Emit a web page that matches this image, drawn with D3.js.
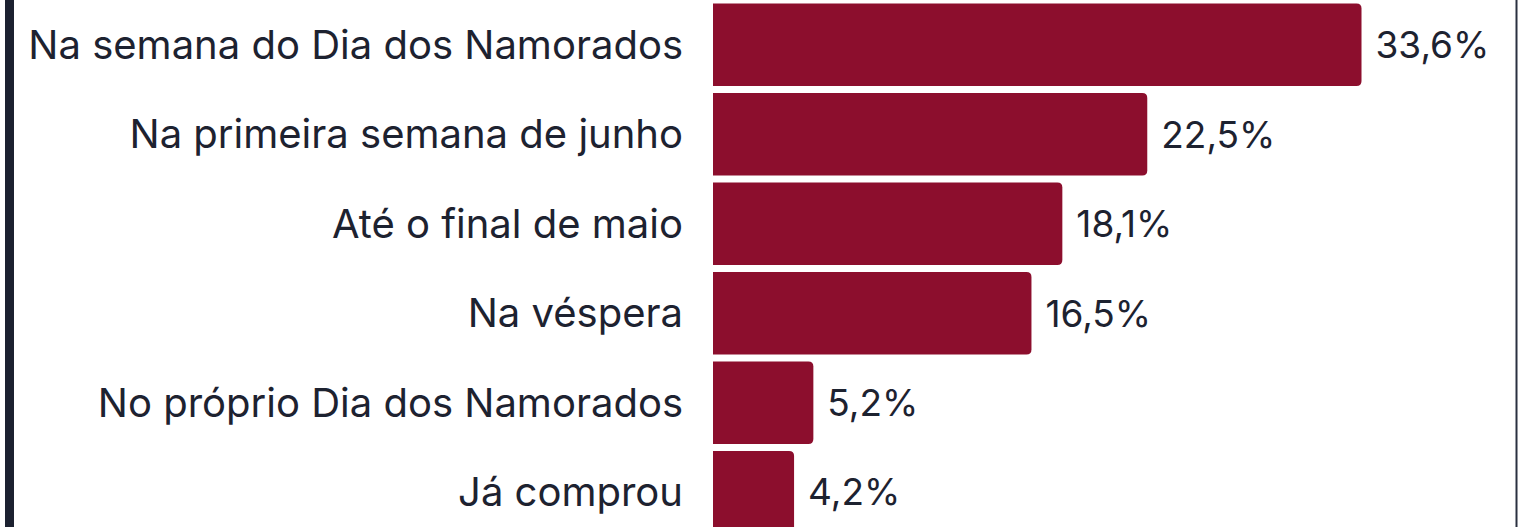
<!DOCTYPE html>
<html>
<head>
<meta charset="utf-8">
<script src="https://cdn.jsdelivr.net/npm/d3@7"></script>
<style>
  html, body { margin: 0; padding: 0; background: #fff; }
  svg { display: block; }
</style>
</head>
<body>
<svg id="chart"></svg>
<script>
// categories and values
const categories = [
  'Na semana do Dia dos Namorados',
  'Na primeira semana de junho',
  'Até o final de maio',
  'Na véspera',
  'No próprio Dia dos Namorados',
  'Já comprou'
];
const values = [33.6, 22.5, 18.1, 16.5, 5.2, 4.2];

const width = 1518, height = 527;
const barColor = '#8c0e2d';
const textColor = '#1d2230';
const fontFamily = 'Inter, "Noto Sans", sans-serif';

const data = categories.map((c, i) => ({ label: c, value: values[i] }));

const svg = d3.select('#chart')
  .attr('width', width)
  .attr('height', height);

const x = d3.scaleLinear()
  .domain([0, d3.max(values)])
  .range([713, 1361.5]);

const y = d3.scaleBand()
  .domain(categories)
  .range([0, 537])
  .paddingInner(0.078)
  .paddingOuter(0.04);

const fmt = v => d3.format('.1f')(v).replace('.', ',') + '%';

// bar with rounded right corners only
function barPath(x0, y0, w, h, r) {
  r = Math.min(r, w / 2, h / 2);
  return `M${x0},${y0}H${x0 + w - r}Q${x0 + w},${y0} ${x0 + w},${y0 + r}` +
    `V${y0 + h - r}Q${x0 + w},${y0 + h} ${x0 + w - r},${y0 + h}H${x0}Z`;
}

svg.append('g')
  .selectAll('path')
  .data(data)
  .join('path')
  .attr('fill', barColor)
  .attr('d', d => barPath(x(0), y(d.label), x(d.value) - x(0), y.bandwidth(), 5));

svg.append('g')
  .attr('font-family', fontFamily)
  .attr('font-size', 40)
  .attr('fill', textColor)
  .selectAll('text')
  .data(data)
  .join('text')
  .attr('x', x(0) - 30)
  .attr('y', d => y(d.label) + y.bandwidth() / 2)
  .attr('dy', '0.35em')
  .attr('text-anchor', 'end')
  .text(d => d.label);

svg.append('g')
  .attr('font-family', fontFamily)
  .attr('font-size', 37)
  .attr('fill', textColor)
  .selectAll('text')
  .data(data)
  .join('text')
  .attr('x', d => x(d.value) + 14)
  .attr('y', d => y(d.label) + y.bandwidth() / 2)
  .attr('dy', '0.36em')
  .text(d => fmt(d.value));

// frame edges
svg.append('rect')
  .attr('x', 5).attr('y', 0)
  .attr('width', 9).attr('height', height)
  .attr('fill', '#1c2130');
svg.append('rect')
  .attr('x', 1515.5).attr('y', 0)
  .attr('width', 2).attr('height', height)
  .attr('fill', '#2a3040');
</script>
</body>
</html>
